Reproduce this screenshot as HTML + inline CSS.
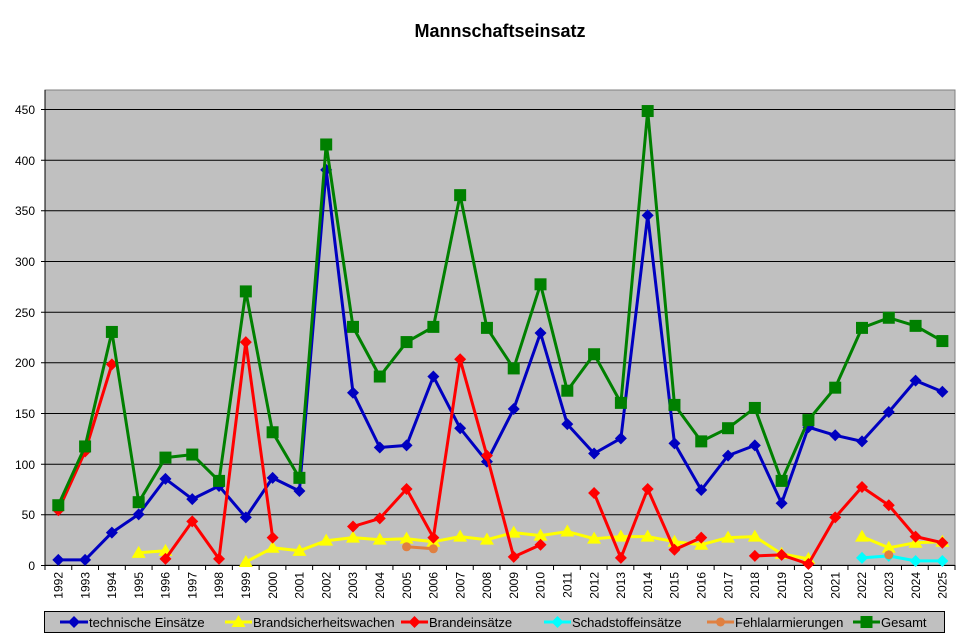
<!DOCTYPE html>
<html><head><meta charset="utf-8"><style>
body{margin:0;background:#fff}
svg{display:block;font-family:"Liberation Sans",Arial,sans-serif}
</style></head><body>
<svg id="s" width="966" height="636" viewBox="0 0 966 636">
<rect x="0" y="0" width="966" height="636" fill="#fff"/>
<text x="500" y="37" text-anchor="middle" font-size="18" font-weight="bold">Mannschaftseinsatz</text>
<rect x="45" y="90" width="910" height="475" fill="#c0c0c0" stroke="#808080" stroke-width="1"/>
<g stroke="#000" stroke-width="1">
<line x1="41" x2="955" y1="109.5" y2="109.5"/><line x1="41" x2="955" y1="160.2" y2="160.2"/>
<line x1="41" x2="955" y1="210.8" y2="210.8"/><line x1="41" x2="955" y1="261.5" y2="261.5"/>
<line x1="41" x2="955" y1="312.2" y2="312.2"/><line x1="41" x2="955" y1="362.8" y2="362.8"/>
<line x1="41" x2="955" y1="413.5" y2="413.5"/><line x1="41" x2="955" y1="464.2" y2="464.2"/>
<line x1="41" x2="955" y1="514.8" y2="514.8"/><line x1="41" x2="955" y1="565.5" y2="565.5"/>
<line x1="45" x2="45" y1="90" y2="565"/>
</g>
<g id="ticks" stroke="#000" stroke-width="1"></g>
<g font-size="12" text-anchor="end">
<text x="35" y="114">450</text><text x="35" y="165">400</text><text x="35" y="215">350</text>
<text x="35" y="266">300</text><text x="35" y="317">250</text><text x="35" y="367">200</text>
<text x="35" y="418">150</text><text x="35" y="469">100</text><text x="35" y="519">50</text>
<text x="35" y="570">0</text>
</g>
<g font-size="12" text-anchor="end">
<text transform="translate(62.5,572) rotate(-90)">1992</text>
<text transform="translate(89.3,572) rotate(-90)">1993</text>
<text transform="translate(116.1,572) rotate(-90)">1994</text>
<text transform="translate(142.9,572) rotate(-90)">1995</text>
<text transform="translate(169.7,572) rotate(-90)">1996</text>
<text transform="translate(196.5,572) rotate(-90)">1997</text>
<text transform="translate(223.2,572) rotate(-90)">1998</text>
<text transform="translate(250,572) rotate(-90)">1999</text>
<text transform="translate(276.8,572) rotate(-90)">2000</text>
<text transform="translate(303.6,572) rotate(-90)">2001</text>
<text transform="translate(330.4,572) rotate(-90)">2002</text>
<text transform="translate(357.2,572) rotate(-90)">2003</text>
<text transform="translate(384,572) rotate(-90)">2004</text>
<text transform="translate(410.8,572) rotate(-90)">2005</text>
<text transform="translate(437.6,572) rotate(-90)">2006</text>
<text transform="translate(464.4,572) rotate(-90)">2007</text>
<text transform="translate(491.2,572) rotate(-90)">2008</text>
<text transform="translate(517.9,572) rotate(-90)">2009</text>
<text transform="translate(544.7,572) rotate(-90)">2010</text>
<text transform="translate(571.5,572) rotate(-90)">2011</text>
<text transform="translate(598.3,572) rotate(-90)">2012</text>
<text transform="translate(625.1,572) rotate(-90)">2013</text>
<text transform="translate(651.9,572) rotate(-90)">2014</text>
<text transform="translate(678.7,572) rotate(-90)">2015</text>
<text transform="translate(705.5,572) rotate(-90)">2016</text>
<text transform="translate(732.3,572) rotate(-90)">2017</text>
<text transform="translate(759.1,572) rotate(-90)">2018</text>
<text transform="translate(785.8,572) rotate(-90)">2019</text>
<text transform="translate(812.6,572) rotate(-90)">2020</text>
<text transform="translate(839.4,572) rotate(-90)">2021</text>
<text transform="translate(866.2,572) rotate(-90)">2022</text>
<text transform="translate(893,572) rotate(-90)">2023</text>
<text transform="translate(919.8,572) rotate(-90)">2024</text>
<text transform="translate(946.6,572) rotate(-90)">2025</text>
</g>
<g id="series"></g>
<rect x="44.5" y="611.5" width="900" height="21" fill="#c0c0c0" stroke="#000" stroke-width="1"/>
<g id="leg"></g>
<g font-size="13">
<text x="89" y="627">technische Einsätze</text>
<text x="253" y="627">Brandsicherheitswachen</text>
<text x="429" y="627">Brandeinsätze</text>
<text x="572" y="627">Schadstoffeinsätze</text>
<text x="735" y="627">Fehlalarmierungen</text>
<text x="881" y="627">Gesamt</text>
</g>
</svg>
<script>
var NS="http://www.w3.org/2000/svg";
function X(i){return 58.3+26.79*i}
function Y(v){return 565-v*1.0133}
function el(p,t,a){var e=document.createElementNS(NS,t);for(var k in a)e.setAttribute(k,a[k]);p.appendChild(e);return e}
var tk=document.getElementById('ticks');
for(var i=0;i<=34;i++){var x=45+i*26.765;el(tk,'line',{x1:x,x2:x,y1:565,y2:570});}
var n=null;
var S=[
{c:'#0000c0',m:'d',d:[5,5,32,50,85,65,78,47,86,73,390,170,116,118,186,135,102,154,229,139,110,125,345,120,74,108,118,61,136,128,122,151,182,171]},
{c:'#ffff00',m:'t',d:[n,n,n,12,14,n,n,3,17,14,24,27,25,26,23,28,25,32,29,33,26,28,28,23,20,27,28,11,6,n,28,17,22,23]},
{c:'#ff0000',m:'d',d:[54,112,198,n,6,43,6,220,27,n,n,38,46,75,27,203,108,8,20,n,71,7,75,15,27,n,9,10,1,47,77,59,28,22]},
{c:'#00ffff',m:'d',d:[n,n,n,n,n,n,n,n,n,n,n,n,n,n,n,n,n,n,n,n,n,n,n,n,n,n,n,n,n,n,7,9,4,4]},
{c:'#e08040',m:'c',d:[n,n,n,n,n,n,n,n,n,n,n,n,n,18,16,n,n,n,n,n,n,n,n,n,n,n,n,n,n,n,n,10,n,n]},
{c:'#008000',m:'s',d:[59,117,230,62,106,109,83,270,131,86,415,235,186,220,235,365,234,194,277,172,208,160,448,158,122,135,155,83,143,175,234,244,236,221]}
];
function mark(g,m,x,y,c){
 if(m=='d')el(g,'polygon',{points:(x)+','+(y-6)+' '+(x+6)+','+y+' '+x+','+(y+6)+' '+(x-6)+','+y,fill:c});
 else if(m=='s')el(g,'rect',{x:x-6,y:y-6,width:12,height:12,fill:c});
 else if(m=='t')el(g,'polygon',{points:x+','+(y-7)+' '+(x+7)+','+(y+5)+' '+(x-7)+','+(y+5),fill:c});
 else el(g,'circle',{cx:x,cy:y,r:4.5,fill:c});
}
var g=document.getElementById('series');
S.forEach(function(s){
 var d='',pen=false;
 s.d.forEach(function(v,i){if(v==null){pen=false;return;}d+=(pen?'L':'M')+X(i).toFixed(1)+','+Y(v).toFixed(1);pen=true;});
 el(g,'path',{d:d,fill:'none',stroke:s.c,'stroke-width':3,'stroke-linejoin':'round'});
 s.d.forEach(function(v,i){if(v!=null)mark(g,s.m,X(i),Y(v),s.c);});
});
var L=document.getElementById('leg');
var lx=[[60,88],[225,252],[401,428],[544,571],[707,734],[853,880]];
S.forEach(function(s,k){var a=lx[k][0],b=lx[k][1];el(L,'line',{x1:a,x2:b,y1:622,y2:622,stroke:s.c,'stroke-width':3});mark(L,s.m,(a+b)/2,622,s.c);});
</script>
</body></html>
